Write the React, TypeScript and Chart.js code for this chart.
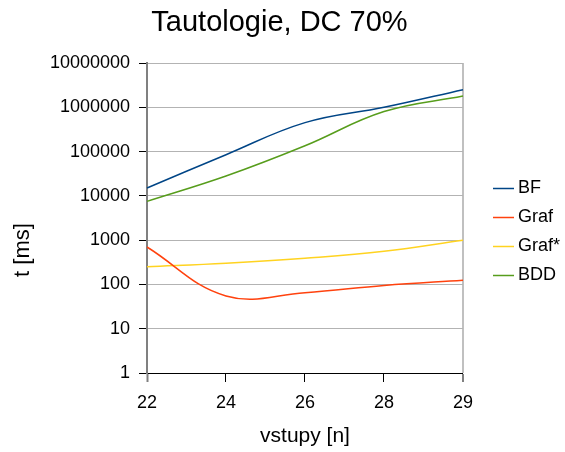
import React, { useEffect, useRef } from 'react';
import { Chart, registerables } from 'chart.js';

Chart.register(...registerables);

const FONT = '"Liberation Sans", Arial, sans-serif';

const categories = ['22', '24', '26', '28', '29'];
const bfValues = [15000, 85000, 450000, 1000000, 2500000];
const grafValues = [700, 55, 65, 95, 125];
const grafStarValues = [250, 300, 390, 560, 1000];
const bddValues = [7500, 28000, 135000, 800000, 1800000];
const yTickValues = [1, 10, 100, 1000, 10000, 100000, 1000000, 10000000];

const chartTitle = 'Tautologie, DC 70%';
const xTitle = 'vstupy [n]';
const yTitle = 't [ms]';

export default function App() {
  const ref = useRef<HTMLCanvasElement>(null);

  useEffect(() => {
    if (!ref.current) return;

    const layoutTweak = {
      id: 'layoutTweak',
      afterLayout(chart: any) {
        const tb = chart.titleBlock;
        if (tb) {
          tb.left = tb.left + 13;
        }
        const lg = chart.legend;
        if (lg) {
          const w = lg.right - lg.left;
          lg.left = chart.chartArea.right + 24;
          lg.right = lg.left + w;
          lg.top += 6;
          lg.bottom += 6;
        }
      },
    };

    const yTitlePlugin = {
      id: 'yTitlePlugin',
      afterDraw(chart: any) {
        const ctx = chart.ctx;
        const ys = chart.scales.y;
        ctx.save();
        ctx.font = `22px ${FONT}`;
        ctx.fillStyle = '#000';
        ctx.textAlign = 'center';
        ctx.textBaseline = 'middle';
        ctx.translate(ys.left + 23, (chart.chartArea.top + chart.chartArea.bottom) / 2 + 32);
        ctx.rotate(-Math.PI / 2);
        ctx.fillText(yTitle, 0, 0);
        ctx.restore();
      },
    };

    const mk = (label: string, data: number[], color: string) => ({
      label,
      data,
      borderColor: color,
      backgroundColor: color,
      borderWidth: 1.5,
      pointRadius: 0,
      pointHoverRadius: 0,
      tension: 0.4,
      fill: false,
    });

    const chart = new Chart(ref.current, {
      type: 'line',
      data: {
        labels: categories,
        datasets: [
          mk('BF', bfValues, '#004586'),
          mk('Graf', grafValues, '#ff420e'),
          mk('Graf*', grafStarValues, '#ffd320'),
          mk('BDD', bddValues, '#579d1c'),
        ],
      },
      options: {
        responsive: false,
        animation: false,
        devicePixelRatio: 1,
        layout: { padding: { top: 0, left: 0, right: 19, bottom: 0 } },
        plugins: {
          title: {
            display: true,
            text: chartTitle,
            color: '#000',
            font: { family: FONT, size: 29, weight: 'normal' },
            padding: { top: 6, bottom: 22.2 },
          },
          legend: {
            display: true,
            position: 'right',
            labels: {
              color: '#000',
              font: { family: FONT, size: 18 },
              usePointStyle: true,
              pointStyle: 'line',
              boxWidth: 11,
              boxHeight: 14.85,
              padding: 11,
            },
          },
          tooltip: { enabled: false },
        },
        scales: {
          x: {
            type: 'category',
            offset: false,
            afterFit: (s: any) => {
              s.height = 79;
            },
            ticks: {
              color: '#000',
              font: { family: FONT, size: 18 },
              padding: 10,
              maxRotation: 0,
              autoSkip: false,
            },
            grid: {
              drawOnChartArea: true,
              color: (c: any) => (c.index === categories.length - 1 ? '#c0c0c0' : 'rgba(0,0,0,0)'),
              lineWidth: (c: any) => (c.index === categories.length - 1 ? 2 : 1),
              tickColor: (c: any) =>
                c.index === 0 || c.index === categories.length - 1 ? '#808080' : '#000',
              tickWidth: (c: any) =>
                c.index === 0 || c.index === categories.length - 1 ? 2 : 1,
              tickLength: 9,
            },
            border: { color: '#000', width: 1 },
            title: {
              display: true,
              text: xTitle,
              color: '#000',
              font: { family: FONT, size: 21 },
              padding: { top: 0, bottom: 3 },
            },
          },
          y: {
            type: 'logarithmic',
            min: 1,
            max: 10000000,
            afterBuildTicks: (s: any) => {
              s.ticks = yTickValues.map((v) => ({ value: v }));
            },
            afterFit: (s: any) => {
              s.width = 147;
            },
            ticks: {
              color: '#000',
              font: { family: FONT, size: 18 },
              padding: 9,
              autoSkip: false,
              callback: (v: any) => String(v),
            },
            grid: {
              color: '#b3b3b3',
              lineWidth: 1,
              tickColor: '#000',
              tickLength: 8,
            },
            border: { color: '#808080', width: 2 },
            title: { display: false },
          },
        },
      },
      plugins: [layoutTweak, yTitlePlugin],
    } as any);

    return () => chart.destroy();
  }, []);

  return (
    <div style={{ position: 'fixed', left: 0, top: 0, width: 565, height: 452, background: '#fff' }}>
      <canvas ref={ref} width={565} height={452} />
    </div>
  );
}
